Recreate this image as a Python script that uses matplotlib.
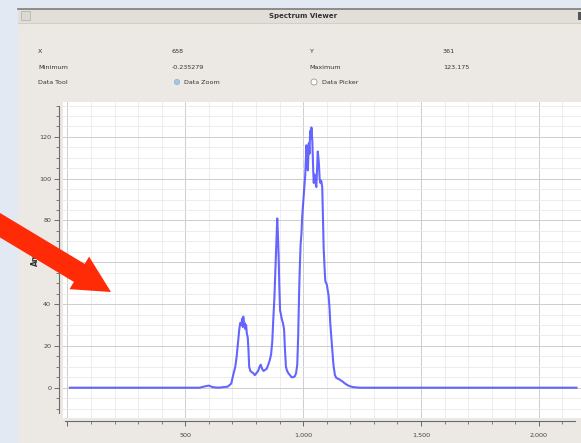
import numpy as np
import matplotlib
matplotlib.use('Agg')
import matplotlib.pyplot as plt
from matplotlib.patches import Rectangle, Circle, FancyArrow
from matplotlib.ticker import MultipleLocator, FuncFormatter

# spectrum
wavelength = [10, 200, 400, 560, 590, 600, 615, 640, 680, 695, 703, 712, 718, 724, 729, 733,
              738, 741, 744, 746, 749, 752, 755, 758, 761, 765, 768, 771, 776, 781, 788, 795,
              802, 809, 815, 820, 826, 832, 838, 845, 852, 858, 864, 869, 873, 878, 882, 885,
              888, 890, 893, 896, 899, 902, 906, 909, 914, 919, 923, 927, 932, 937, 944, 951,
              958, 965, 970, 975, 979, 983, 986, 989, 993, 996, 1000, 1003, 1006, 1009, 1012,
              1014, 1017, 1020, 1022, 1024, 1027, 1029, 1031, 1034, 1035, 1037, 1039, 1041,
              1043, 1045, 1048, 1051, 1054, 1056, 1059, 1062, 1064, 1067, 1070, 1073, 1077,
              1081, 1084, 1087, 1091, 1094, 1098, 1101, 1105, 1108, 1112, 1115, 1119, 1123,
              1127, 1130, 1135, 1140, 1147, 1154, 1161, 1168, 1175, 1183, 1195, 1211, 1240,
              1500, 1800, 2160]
amplitude = [0, 0, 0, 0, 0.8, 1, 0.3, 0, 0.5, 2, 6, 10, 15, 22, 28, 31,
             30, 33, 29, 34, 30, 31, 28, 30, 26, 24, 18, 10, 8, 7.5, 7, 6,
             7, 8, 10, 11, 9, 8, 8.5, 9, 11, 13, 16, 22, 32, 43, 55, 65,
             75, 81, 73, 63, 48, 37, 35, 33, 31, 28, 18, 10, 8, 7, 6, 5,
             5, 5.5, 7, 11, 25, 46, 58, 68, 74, 82, 88, 92, 97, 102, 110,
             116, 108, 104, 110, 117, 112, 120, 123, 119, 124.5, 121, 118, 110,
             103, 98, 102, 100, 97, 96, 105, 113, 111, 107, 100, 98, 99,
             96, 82, 67, 57, 51, 50, 49, 46, 44, 38, 31, 25, 19,
             13, 9.6, 6, 4.8, 4.3, 4, 3.4, 2.9, 2.2, 1.6, 0.8, 0.3, 0,
             0, 0, 0]

info_rows = [["X", "658", "Y", "361"],
             ["Minimum", "-0.235279", "Maximum", "123.175"]]
tool_labels = ["Data Tool", "Data Zoom", "Data Picker"]

W, H = 581, 443
fig = plt.figure(figsize=(W / 100, H / 100), dpi=100)
fig.patch.set_facecolor('#e2e9f3')

# window chrome in pixel coords
bg = fig.add_axes([0, 0, 1, 1], zorder=0)
bg.set_xlim(0, W)
bg.set_ylim(H, 0)
bg.axis('off')
bg.add_patch(Rectangle((18, 8), W - 18, H - 8, facecolor='#ece9e4', edgecolor='none'))
bg.add_patch(Rectangle((18, 9), W - 18, 14, facecolor='#e2ded8', edgecolor='none'))
bg.plot([18, W], [8.5, 8.5], color='#7c7c7c', lw=1.2)
bg.plot([18, W], [23, 23], color='#d2cec8', lw=0.8)
bg.add_patch(Rectangle((21, 11), 9, 9, facecolor='#dcd8d2', edgecolor='#b8b4ae', lw=0.6))
bg.add_patch(Rectangle((578, 12), 3, 8, facecolor='#555555', edgecolor='none'))
bg.text(303, 16, "Spectrum Viewer", ha='center', va='center', fontsize=5, weight='bold', color='#333333')

cols = [38, 172, 309, 443]
for r, row in enumerate(info_rows):
    for c, s in enumerate(row):
        bg.text(cols[c], 51 + r * 16, s, ha='left', va='center', fontsize=4.6, color='#333333')
bg.text(cols[0], 82, tool_labels[0], ha='left', va='center', fontsize=4.6, color='#333333')
bg.add_patch(Circle((177, 82), 2.6, facecolor='#a8c6ea', edgecolor='#8aa8cc', lw=0.5))
bg.text(184, 82, tool_labels[1], ha='left', va='center', fontsize=4.6, color='#333333')
bg.add_patch(Circle((314, 82), 3, facecolor='white', edgecolor='#999999', lw=0.6))
bg.text(322, 82, tool_labels[2], ha='left', va='center', fontsize=4.6, color='#333333')

# plot
left, right, top, bottom = 63, 581, 102, 418
ax = fig.add_axes([left / W, 1 - bottom / H, (right - left) / W, (bottom - top) / H], zorder=1)
ax.set_facecolor('white')
ax.plot(wavelength, amplitude, color='#4a4aff', lw=1.5, alpha=0.85)
ax.set_xlim(-19, 2179)
ax.set_ylim(-14.5, 136.7)

ax.xaxis.set_major_locator(MultipleLocator(500))
ax.xaxis.set_minor_locator(MultipleLocator(100))
ax.yaxis.set_major_locator(MultipleLocator(20))
ax.yaxis.set_minor_locator(MultipleLocator(5))
ax.xaxis.set_major_formatter(FuncFormatter(lambda v, p: f'{v:,.0f}' if v > 0 else ''))
ax.yaxis.set_major_formatter(FuncFormatter(lambda v, p: f'{v:.0f}'))
ax.grid(which='major', color='#cdcdcd', lw=0.7)
ax.grid(which='minor', color='#eaeaea', lw=0.6)
ax.set_axisbelow(True)

for s in ['top', 'right']:
    ax.spines[s].set_visible(False)
ax.spines['left'].set_position(('outward', 3))
ax.spines['bottom'].set_position(('outward', 2))
ax.spines['bottom'].set_bounds(-10, 2153)
ax.spines['left'].set_bounds(-12, 135)
for s in ['left', 'bottom']:
    ax.spines[s].set_color('#6a6a6a')
    ax.spines[s].set_linewidth(0.8)
ax.tick_params(which='major', direction='out', length=3.5, width=0.7, color='#6a6a6a',
               labelsize=4.6, labelcolor='#444444', pad=2)
ax.tick_params(which='minor', direction='out', length=2, width=0.6, color='#6a6a6a')
ax.xaxis.set_tick_params(pad=5)

bg.text(35, 266, "Amp", rotation=90, ha='center', va='bottom', fontsize=5.5,
        weight='bold', color='#333333')

# red arrow on top
top_ax = fig.add_axes([0, 0, 1, 1], zorder=5)
top_ax.set_xlim(0, W)
top_ax.set_ylim(H, 0)
top_ax.axis('off')
top_ax.patch.set_alpha(0)
top_ax.add_patch(FancyArrow(-12, 218, 123, 74, width=21, head_width=38, head_length=37,
                            length_includes_head=True, color='#ff2a06', lw=0))

fig.savefig('out.png', dpi=100, facecolor=fig.get_facecolor())
